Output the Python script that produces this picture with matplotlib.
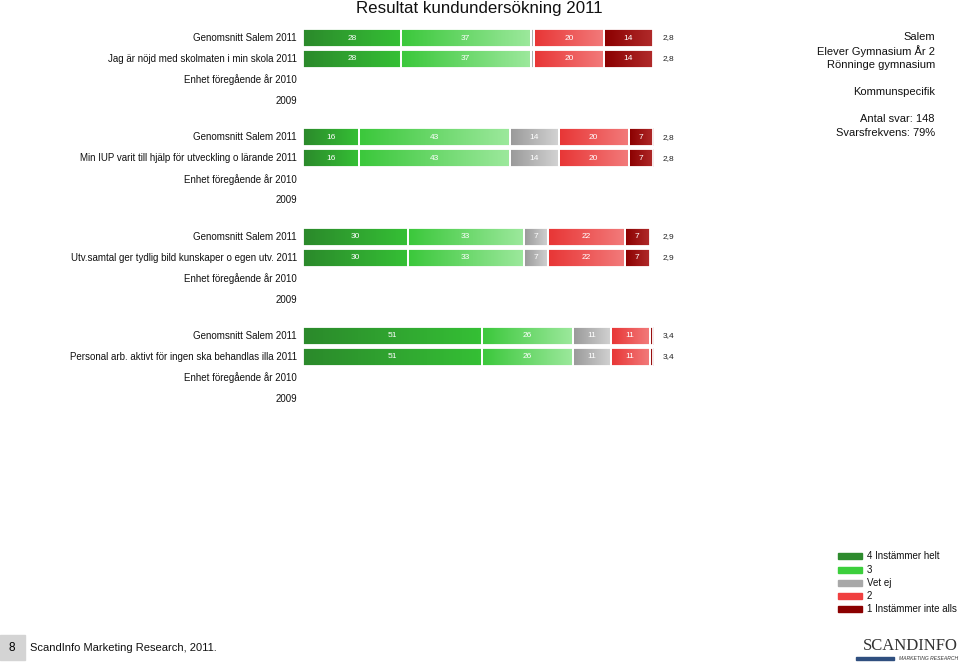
import matplotlib.pyplot as plt
import numpy as np
from matplotlib.colors import LinearSegmentedColormap

plt.rcParams["font.family"] = ["Liberation Sans", "DejaVu Sans"]

# data
questions = [
    "Jag är nöjd med skolmaten i min skola",
    "Min IUP varit till hjälp för utveckling o lärande",
    "Utv.samtal ger tydlig bild kunskaper o egen utv.",
    "Personal arb. aktivt för ingen ska behandlas illa",
]
categories = ["4 Instämmer helt", "3", "Vet ej", "2", "1 Instämmer inte alls"]
# shares per question (same for "Genomsnitt Salem 2011" and the unit 2011 row)
shares = [
    [28, 37, 1, 20, 14],
    [16, 43, 14, 20, 7],
    [30, 33, 7, 22, 7],
    [51, 26, 11, 11, 1],
]
means = ["2,8", "2,8", "2,9", "3,4"]

grad_colors = [
    ("#2b8a2b", "#35bf35"),
    ("#3cc83c", "#9be89b"),
    ("#9a9a9a", "#d2d2d2"),
    ("#e83636", "#f27a7a"),
    ("#8b0000", "#b02a2a"),
]
legend_colors = ["#2e8b2e", "#3ccf3c", "#a8a8a8", "#f04040", "#8b0000"]

W, H = 960, 663
fig = plt.figure(figsize=(W / 100, H / 100), dpi=100)

# axes: x 303..(100% at 653 px, axes goes on to 688), y 28..410 px ; one row = 21 px
px_per_pct = 3.5
ax_left, ax_right, ax_top, ax_bot = 303, 688, 28, 410
ax = fig.add_axes([ax_left / W, 1 - ax_bot / H, (ax_right - ax_left) / W, (ax_bot - ax_top) / H])
row_px, first_px = 21, 38
ax.axis("off")

group_step = 4.73
bar_h = 18 / row_px

tick_pos, tick_lab = [], []
for g, q in enumerate(questions):
    base = g * group_step
    labels = ["Genomsnitt Salem 2011", f"{q} 2011", "Enhet föregående år 2010", "2009"]
    for r, lab in enumerate(labels):
        tick_pos.append(base + r)
        tick_lab.append(lab)
    for r in range(2):
        y = base + r
        left = 0
        for c, v in enumerate(shares[g]):
            cmap = LinearSegmentedColormap.from_list("g", grad_colors[c])
            bar = ax.barh(y, v, left=left, height=bar_h, facecolor="none",
                          edgecolor="white", linewidth=1.3, zorder=2)[0]
            img = ax.imshow(np.linspace(0, 1, 32).reshape(1, -1), cmap=cmap, aspect="auto",
                            interpolation="bilinear",
                            extent=[left, left + v, y + bar_h / 2, y - bar_h / 2], zorder=1)
            img.set_clip_path(bar)
            if v >= 5:
                ax.text(left + v / 2, y, str(v), color="white", fontsize=6,
                        ha="center", va="center", zorder=5)
            left += v
        ax.text(102.8, y, means[g], fontsize=6, ha="left", va="center", color="#222222")

ax.set_xlim(0, (ax_right - ax_left) / px_per_pct)
ax.set_ylim((ax_bot - first_px) / row_px, (ax_top - first_px) / row_px)

for y, lab in zip(tick_pos, tick_lab):
    ax.text(-1.7, y, lab, fontsize=7.0, ha="right", va="center", color="#111111")

fig.text(479 / W, 1 - 9 / H, "Resultat kundundersökning 2011", fontsize=12.2,
         ha="center", va="center", color="#111111")

right_lines = [("Salem", 37), ("Elever Gymnasium År 2", 51), ("Rönninge gymnasium", 65),
               ("Kommunspecifik", 92), ("Antal svar: 148", 119), ("Svarsfrekvens: 79%", 133)]
for txt, py in right_lines:
    fig.text(935 / W, 1 - py / H, txt, fontsize=8.0, ha="right", va="center", color="#111111")

# legend
leg_y = [556, 570, 583, 596, 609]
for col, lab, py in zip(legend_colors, categories, leg_y):
    fig.patches.append(plt.Rectangle((838 / W, 1 - (py + 3) / H), 24 / W, 6 / H,
                                     transform=fig.transFigure, color=col))
    fig.text(867 / W, 1 - py / H, lab, fontsize=7, ha="left", va="center", color="#111111")

# footer
fig.patches.append(plt.Rectangle((0, 1 - 660 / H), 25 / W, 25 / H, transform=fig.transFigure,
                                 color="#d4d4d4"))
fig.text(12 / W, 1 - 648 / H, "8", fontsize=8.5, ha="center", va="center")
fig.text(30 / W, 1 - 648 / H, "ScandInfo Marketing Research, 2011.", fontsize=8,
         ha="left", va="center", color="#111111")
fig.text(958 / W, 1 - 646 / H, "SCANDINFO", fontsize=12, family="Liberation Serif",
         ha="right", va="center", color="#333333")
fig.patches.append(plt.Rectangle((856 / W, 1 - 660 / H), 38 / W, 3 / H, transform=fig.transFigure,
                                 color="#2f4f7f"))
fig.text(958 / W, 1 - 658.5 / H, "MARKETING RESEARCH", fontsize=3.6, style="italic",
         ha="right", va="center", color="#333333")

fig.savefig("out.png", dpi=100)
